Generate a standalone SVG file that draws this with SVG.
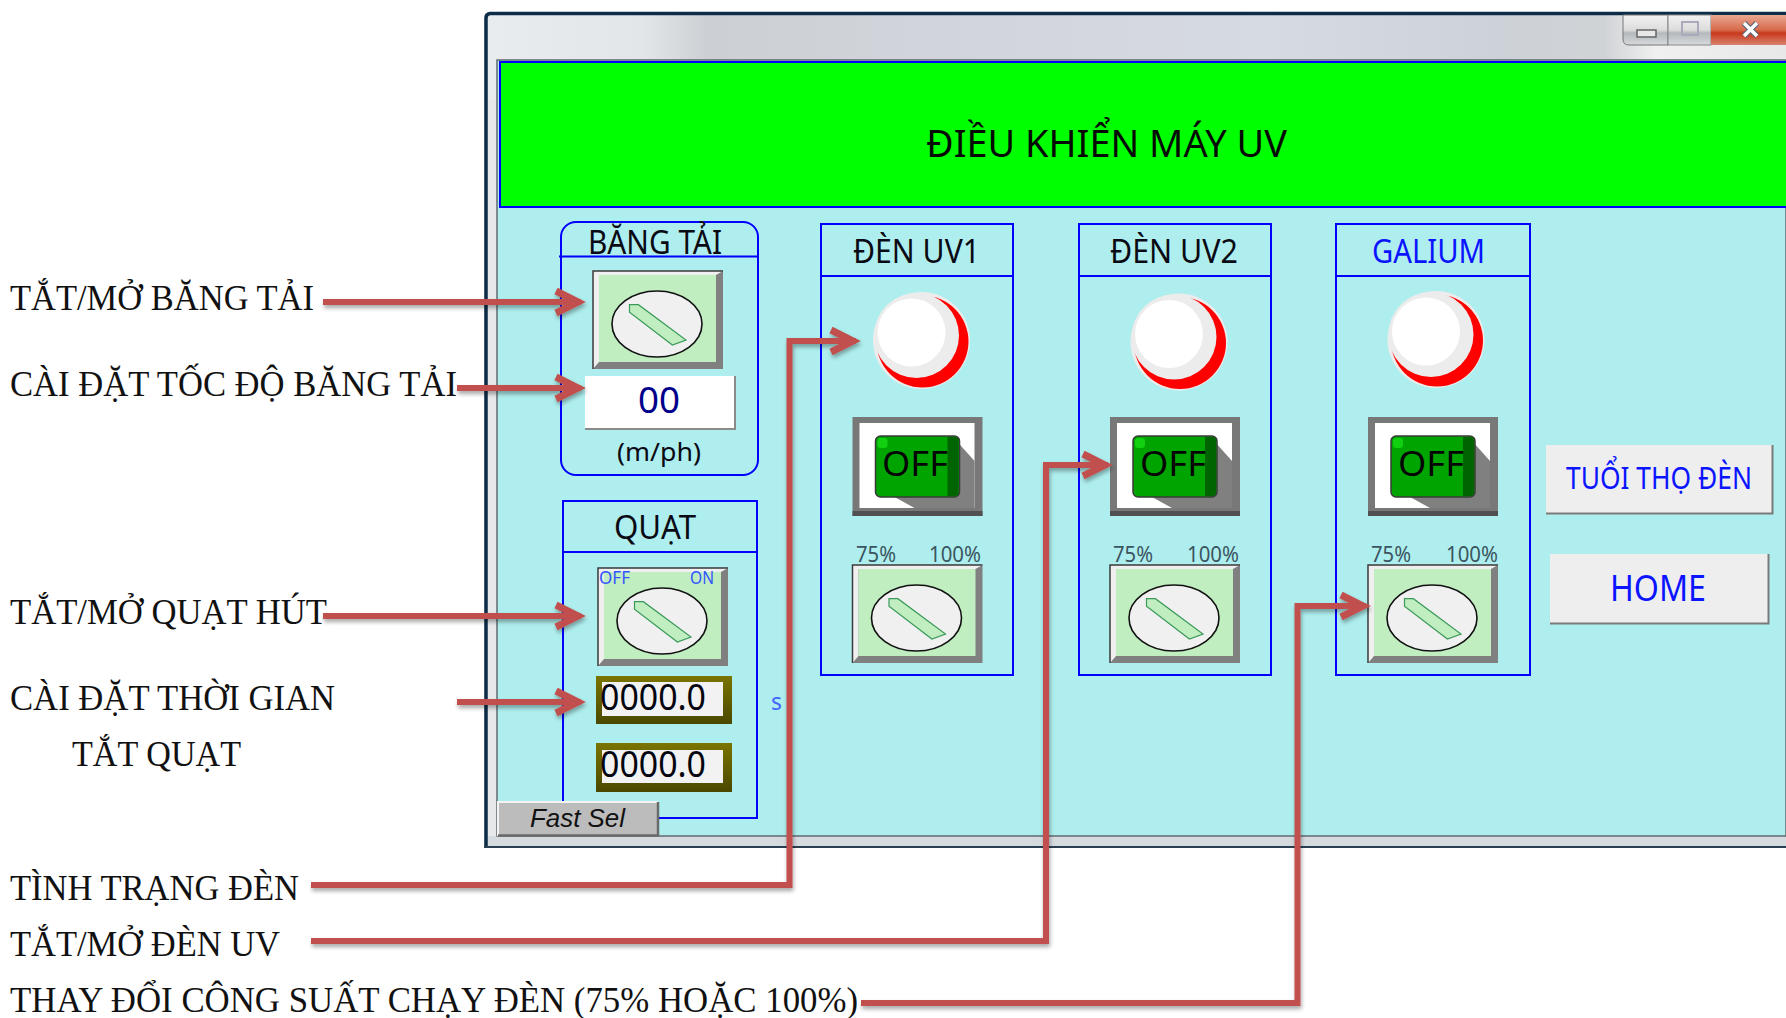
<svg xmlns="http://www.w3.org/2000/svg" xmlns:xlink="http://www.w3.org/1999/xlink" width="1786" height="1018" viewBox="0 0 1786 1018">
<style>
.ui{font-family:"Noto Sans","Open Sans","DejaVu Sans",sans-serif}
.serif{font-family:"Liberation Serif","Times New Roman",serif;font-size:35px;fill:#111}
.hd{font-size:32px;fill:#0a0a14}
.pan{fill:none;stroke:#0000ff;stroke-width:2}
.pct{font-size:22px;fill:#3a5560}
.off{font-size:35px;fill:#050505}
.num{font-size:36px;fill:#05050f}
.blue{fill:#0a14ff}
.conn{fill:none;stroke:#c0504d;stroke-width:6;stroke-linejoin:miter}
</style>
<defs>
<linearGradient id="tb" x1="0" x2="1" y1="0" y2="0">
<stop offset="0" stop-color="#e9ecef"/><stop offset=".12" stop-color="#e2e6e9"/><stop offset=".17" stop-color="#ccd0d4"/><stop offset=".3" stop-color="#d0d4da"/><stop offset=".6" stop-color="#d6dbe1"/><stop offset=".78" stop-color="#cdd2d8"/><stop offset=".86" stop-color="#d0d3d6"/><stop offset=".9" stop-color="#f0f0f0"/><stop offset="1" stop-color="#e8e8e8"/>
</linearGradient>
<linearGradient id="minb" x1="0" x2="0" y1="0" y2="1"><stop offset="0" stop-color="#f2f2f2"/><stop offset=".5" stop-color="#dcdcdc"/><stop offset=".6" stop-color="#b4b8bc"/><stop offset="1" stop-color="#d8dadc"/></linearGradient>
<linearGradient id="clsb" x1="0" x2="0" y1="0" y2="1"><stop offset="0" stop-color="#e8a890"/><stop offset=".5" stop-color="#d86a4c"/><stop offset=".6" stop-color="#c8381c"/><stop offset="1" stop-color="#d88270"/></linearGradient>
<linearGradient id="ol" x1="0" x2="0" y1="0" y2="1"><stop offset="0" stop-color="#7a7400"/><stop offset="1" stop-color="#4a4800"/></linearGradient>
<filter id="sh" x="-5%" y="-5%" width="110%" height="110%"><feGaussianBlur in="SourceAlpha" stdDeviation="2"/><feOffset dy="3" dx="1"/><feComponentTransfer><feFuncA type="linear" slope=".35"/></feComponentTransfer><feMerge><feMergeNode/><feMergeNode in="SourceGraphic"/></feMerge></filter>
<marker id="ah" markerUnits="userSpaceOnUse" markerWidth="34" markerHeight="34" viewBox="-28 -17 34 34" refX="3" refY="0" orient="auto" overflow="visible"><path d="M-22,-11 L0,0 L-22,11" fill="none" stroke="#c0504d" stroke-width="7"/></marker>
<g id="sw">
<rect width="130" height="98" fill="#808080"/>
<polygon points="0,0 130,0 123,4 6,4 6,91 0,98" fill="#efefef"/>
<rect x="6" y="4" width="117" height="87" fill="#c1eec1"/>
<path d="M0,98V0H130" fill="none" stroke="#3a3a3a" stroke-width="1.5"/>
<ellipse cx="64" cy="53" rx="45" ry="33" fill="#f0f0f0" stroke="#111" stroke-width="1.600"/>
<polygon points="36.500,33.700 45.400,33.700 93,69 79.400,74 36.500,41.300" fill="#c1eec1" stroke="#3a9a5a" stroke-width="1.200"/>
</g>
<g id="offb">
<rect width="130" height="99" fill="#787878"/>
<rect y="94" width="130" height="5" fill="#505050"/>
<rect x="7" y="6" width="115" height="85" fill="#fff"/>
<polygon points="105,25 122,44 122,91 62,91 42,80 105,80" fill="#808080"/>
<rect x="23" y="19" width="84" height="61" rx="5" fill="#00a400" stroke="#3a3a3a" stroke-width="1.500"/>
<path d="M95,20H102Q106,20 106,24V75Q106,79 102,79H95Z" fill="#006400"/>
<rect x="25" y="21" width="10" height="10" rx="3" fill="#10d010"/>
</g>
<g id="lamp">
<circle r="48.500" fill="#ececec"/>
<circle cx="1" cy="1" r="46" fill="#ff0000"/>
<circle cx="-5" cy="-5" r="42.500" fill="#ececec"/>
<circle cx="-10" cy="-8" r="34" fill="#fff"/>
</g>
</defs>

<g id="window">
<path d="M484,848V18Q484,12 490,12H1786V846H497" fill="#d8dde1"/>
<path d="M492,15H1786V62H497V100H487V20Q487,15 492,15Z" fill="url(#tb)"/>
<rect x="487" y="100" width="10" height="736" fill="#e6e8ea"/>
<rect x="487" y="836" width="1299" height="10" fill="#d5dade"/>
<path d="M486,848V18Q486,14 490,13.500H1786" fill="none" stroke="#0d2c48" stroke-width="3.500"/>
<path d="M484,847H1786" stroke="#2a3f52" stroke-width="2"/>
<rect x="497" y="60" width="1289" height="776" fill="#afeeee" stroke="#606a70" stroke-width="1.500"/>
<rect x="500" y="62" width="1290" height="145" fill="#00ff00" stroke="#0000ff" stroke-width="2"/>
<text class="ui" x="926" y="157" font-size="39" fill="#050a05" textLength="361" lengthAdjust="spacingAndGlyphs">ĐIỀU KHIỂN MÁY UV</text>
<path d="M1623,15H1668V45H1629Q1623,45 1623,39Z" fill="url(#minb)" stroke="#777" stroke-width="1"/>
<rect x="1668" y="15" width="43" height="30" fill="url(#minb)" stroke="#888" stroke-width="1"/>
<path d="M1711,15H1786V45H1711Z" fill="url(#clsb)"/>
<rect x="1637" y="30" width="19" height="7" fill="#e8e8e8" stroke="#666" stroke-width="1.500"/>
<rect x="1682" y="22" width="16" height="13" fill="none" stroke="#aab" stroke-width="2"/>
<path d="M1744,23L1757,36M1757,23L1744,36" stroke="#606878" stroke-width="6"/>
<path d="M1744,23L1757,36M1757,23L1744,36" stroke="#fff" stroke-width="3.500"/>
</g>

<g id="bang-tai">
<rect class="pan" x="561" y="222" width="197" height="253" rx="15"/>
<path class="pan" d="M559,256.500H758"/>
<text class="ui hd" x="588" y="254" textLength="134" lengthAdjust="spacingAndGlyphs">BĂNG TẢI</text>
<use href="#sw" x="593" y="271"/>
<rect x="585" y="376" width="150" height="53" fill="#fff"/>
<path d="M585,429H735V376" fill="none" stroke="#8a8a8a" stroke-width="2"/>
<text class="ui" x="638" y="413" font-size="37" fill="#00008b" textLength="42" lengthAdjust="spacingAndGlyphs">00</text>
<text class="ui" x="617" y="461" font-size="26" fill="#0a0a14" textLength="84" lengthAdjust="spacingAndGlyphs">(m/ph)</text>
</g>

<g id="quat">
<rect class="pan" x="563" y="501" width="194" height="317"/>
<path class="pan" d="M563,552H757"/>
<text class="ui hd" x="614" y="539" textLength="82" lengthAdjust="spacingAndGlyphs">QUẠT</text>
<use href="#sw" x="598" y="568"/>
<text class="ui" x="599" y="584" font-size="18" fill="#3355ff" textLength="31" lengthAdjust="spacingAndGlyphs">OFF</text>
<text class="ui" x="690" y="584" font-size="18" fill="#3355ff" textLength="24" lengthAdjust="spacingAndGlyphs">ON</text>
<rect x="596" y="676" width="136" height="48" fill="url(#ol)"/>
<rect x="602" y="682" width="121" height="34" fill="#f2f2f2"/>
<text class="ui num" x="600" y="710" textLength="106" lengthAdjust="spacingAndGlyphs">0000.0</text>
<rect x="596" y="743" width="136" height="49" fill="url(#ol)"/>
<rect x="602" y="750" width="121" height="33" fill="#f2f2f2"/>
<text class="ui num" x="600" y="777" textLength="106" lengthAdjust="spacingAndGlyphs">0000.0</text>
<text class="ui" x="771" y="710" font-size="24" fill="#4466ff" textLength="11" lengthAdjust="spacingAndGlyphs">s</text>
</g>

<g id="fast-sel">
<rect x="498" y="802" width="160.500" height="34" fill="#bcbcbc"/>
<path d="M498,836V802H658" fill="none" stroke="#f4f4f4" stroke-width="2"/>
<path d="M498,835.500H658V802" fill="none" stroke="#6a6a6a" stroke-width="2.500"/>
<text x="530" y="827" font-family="Liberation Sans,Arial,sans-serif" font-style="italic" font-size="26" fill="#111" textLength="95" lengthAdjust="spacingAndGlyphs">Fast Sel</text>
</g>

<g id="den-uv1">
<rect class="pan" x="821" y="224" width="192" height="451"/>
<path class="pan" d="M821,276H1013"/>
<text class="ui hd" x="853" y="263" textLength="127" lengthAdjust="spacingAndGlyphs">ĐÈN UV1</text>
<use href="#lamp" x="921.500" y="340.500"/>
<use href="#offb" x="852.500" y="417"/>
<text class="ui off" x="882" y="476" textLength="66" lengthAdjust="spacingAndGlyphs">OFF</text>
<text class="ui pct" x="856" y="562" textLength="40" lengthAdjust="spacingAndGlyphs">75%</text>
<text class="ui pct" x="929" y="562" textLength="52" lengthAdjust="spacingAndGlyphs">100%</text>
<use href="#sw" x="852.500" y="565"/>
</g>

<g id="den-uv2">
<rect class="pan" x="1079" y="224" width="192" height="451"/>
<path class="pan" d="M1079,276H1271"/>
<text class="ui hd" x="1110" y="263" textLength="128" lengthAdjust="spacingAndGlyphs">ĐÈN UV2</text>
<use href="#lamp" x="1179" y="342"/>
<use href="#offb" x="1110" y="417"/>
<text class="ui off" x="1140" y="476" textLength="66" lengthAdjust="spacingAndGlyphs">OFF</text>
<text class="ui pct" x="1113" y="562" textLength="40" lengthAdjust="spacingAndGlyphs">75%</text>
<text class="ui pct" x="1187" y="562" textLength="52" lengthAdjust="spacingAndGlyphs">100%</text>
<use href="#sw" x="1110" y="565"/>
</g>

<g id="galium">
<rect class="pan" x="1336" y="224" width="194" height="451"/>
<path class="pan" d="M1336,276H1530"/>
<text class="ui hd blue" x="1372" y="263" textLength="113" lengthAdjust="spacingAndGlyphs">GALIUM</text>
<use href="#lamp" x="1436" y="339.500"/>
<use href="#offb" x="1368" y="417"/>
<text class="ui off" x="1398" y="476" textLength="66" lengthAdjust="spacingAndGlyphs">OFF</text>
<text class="ui pct" x="1371" y="562" textLength="40" lengthAdjust="spacingAndGlyphs">75%</text>
<text class="ui pct" x="1446" y="562" textLength="52" lengthAdjust="spacingAndGlyphs">100%</text>
<use href="#sw" x="1368" y="565"/>
</g>

<g id="tuoi-tho-den">
<rect x="1546" y="445" width="227" height="69" fill="#eeeeee"/>
<path d="M1546,513.500H1772.500V445" fill="none" stroke="#7a7a7a" stroke-width="2"/>
<text class="ui blue" x="1566" y="489" font-size="30" textLength="186" lengthAdjust="spacingAndGlyphs">TUỔI THỌ ĐÈN</text>
</g>
<g id="home">
<rect x="1550" y="554" width="219" height="70" fill="#eeeeee"/>
<path d="M1550,623.500H1768.500V554" fill="none" stroke="#7a7a7a" stroke-width="2"/>
<text class="ui blue" x="1610" y="601" font-size="37" textLength="96" lengthAdjust="spacingAndGlyphs">HOME</text>
</g>

<g id="labels">
<text class="serif" x="10" y="310" textLength="304" lengthAdjust="spacingAndGlyphs">TẮT/MỞ BĂNG TẢI</text>
<text class="serif" x="10" y="396" textLength="447" lengthAdjust="spacingAndGlyphs">CÀI ĐẶT TỐC ĐỘ BĂNG TẢI</text>
<text class="serif" x="10" y="624" textLength="317" lengthAdjust="spacingAndGlyphs">TẮT/MỞ QUẠT HÚT</text>
<text class="serif" x="10" y="710" textLength="325" lengthAdjust="spacingAndGlyphs">CÀI ĐẶT THỜI GIAN</text>
<text class="serif" x="72" y="766" textLength="169" lengthAdjust="spacingAndGlyphs">TẮT QUẠT</text>
<text class="serif" x="10" y="900" textLength="289" lengthAdjust="spacingAndGlyphs">TÌNH TRẠNG ĐÈN</text>
<text class="serif" x="10" y="956" textLength="270" lengthAdjust="spacingAndGlyphs">TẮT/MỞ ĐÈN UV</text>
<text class="serif" x="10" y="1012" textLength="848" lengthAdjust="spacingAndGlyphs">THAY ĐỔI CÔNG SUẤT CHẠY ĐÈN (75% HOẶC 100%)</text>
</g>

<g id="connectors" filter="url(#sh)">
<path class="conn" marker-end="url(#ah)" d="M323,302H581"/>
<path class="conn" marker-end="url(#ah)" d="M457,388H581"/>
<path class="conn" marker-end="url(#ah)" d="M323,616H581"/>
<path class="conn" marker-end="url(#ah)" d="M457,702H581"/>
<path class="conn" marker-end="url(#ah)" d="M311,885H789.500V341H856"/>
<path class="conn" marker-end="url(#ah)" d="M311,941H1046V465H1108"/>
<path class="conn" marker-end="url(#ah)" d="M861,1003H1297.500V606H1366"/>
</g>
</svg>
